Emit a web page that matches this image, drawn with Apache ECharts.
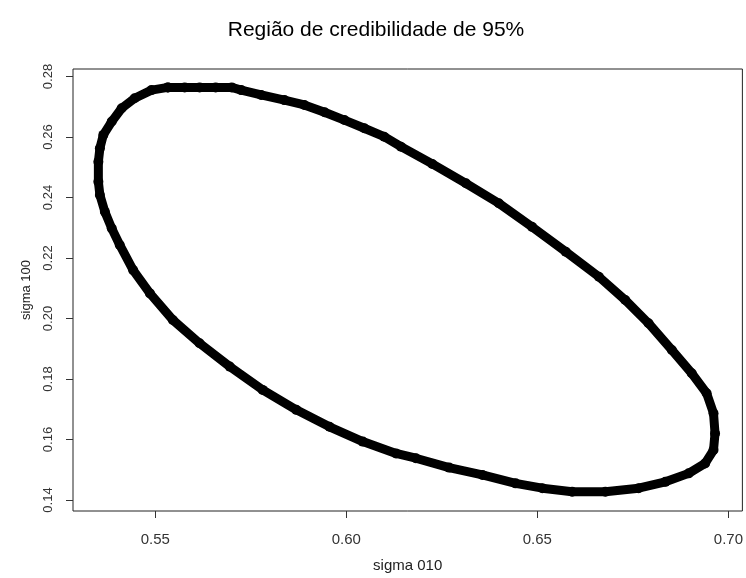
<!DOCTYPE html>
<html>
<head>
<meta charset="utf-8">
<script src="https://cdn.jsdelivr.net/npm/echarts@6/dist/echarts.min.js"></script>
<style>
  html, body { margin: 0; padding: 0; background: #fff; }
  #chart { width: 746px; height: 578px; }
</style>
</head>
<body>
<div id="chart"></div>
<script>
// Boundary of the 95% credibility region, traced around the contour
// (sigma 010 on x, sigma 100 on y).
const sigma010 = [
  0.5533, 0.5577, 0.5616, 0.5658, 0.5700, 0.5725, 0.5777, 0.5838, 0.5890, 0.5943,
  0.5995, 0.6047, 0.6099, 0.6143, 0.6225, 0.6313, 0.6399, 0.6486, 0.6574, 0.6661,
  0.6730, 0.6791, 0.6852, 0.6904, 0.6943, 0.6961, 0.6965, 0.6961, 0.6939, 0.6896,
  0.6835, 0.6765, 0.6678, 0.6591, 0.6513, 0.6443, 0.6356, 0.6269, 0.6182, 0.6130,
  0.6043, 0.5956, 0.5869, 0.5781, 0.5695, 0.5616, 0.5546, 0.5486, 0.5442, 0.5407,
  0.5386, 0.5368, 0.5355, 0.5351, 0.5351, 0.5355, 0.5364, 0.5386, 0.5412, 0.5446,
  0.5490, 0.5533
];
const sigma100 = [
  0.2764, 0.2764, 0.2764, 0.2764, 0.2764, 0.2755, 0.2739, 0.2722, 0.2706, 0.2682,
  0.2656, 0.2629, 0.2601, 0.2568, 0.2511, 0.2447, 0.2381, 0.2303, 0.2221, 0.2138,
  0.2061, 0.1984, 0.1896, 0.1819, 0.1753, 0.1687, 0.1620, 0.1565, 0.1521, 0.1488,
  0.1460, 0.1439, 0.1427, 0.1427, 0.1439, 0.1455, 0.1483, 0.1507, 0.1538, 0.1554,
  0.1593, 0.1642, 0.1698, 0.1764, 0.1841, 0.1918, 0.1995, 0.2083, 0.2160, 0.2243,
  0.2298, 0.2353, 0.2408, 0.2452, 0.2518, 0.2563, 0.2607, 0.2651, 0.2695, 0.2728,
  0.2755, 0.2764
];

// Axis ticks and ranges
const xTicks = [0.55, 0.60, 0.65, 0.70];
const yTicks = [0.14, 0.16, 0.18, 0.20, 0.22, 0.24, 0.26, 0.28];
const xRange = [0.52846, 0.70366];
const yRange = [0.13636, 0.28248];

const points = sigma010.map((x, i) => [x, sigma100[i]]);

const FONT = "'Liberation Sans', Arial, Helvetica, sans-serif";
const chart = echarts.init(document.getElementById('chart'), null, { renderer: 'canvas' });

chart.setOption({
  animation: false,
  backgroundColor: '#ffffff',
  title: {
    text: 'Região de credibilidade de 95%',
    left: 376,
    top: 20,
    padding: 0,
    textAlign: 'center',
    textStyle: { fontFamily: FONT, fontSize: 21, fontWeight: 'normal', color: '#000' }
  },
  grid: {
    left: 73, right: 2, top: 69, bottom: 67,
    show: true, borderColor: '#222', borderWidth: 1, backgroundColor: 'transparent'
  },
  xAxis: {
    type: 'value',
    min: xRange[0], max: xRange[1],
    name: 'sigma 010',
    nameLocation: 'middle',
    nameGap: 47,
    nameTextStyle: { fontFamily: FONT, fontSize: 15, color: '#222' },
    axisLine: { show: false },
    splitLine: { show: false },
    axisTick: { show: true, length: 7, customValues: xTicks, lineStyle: { color: '#333' } },
    axisLabel: {
      customValues: xTicks, margin: 21,
      formatter: v => v.toFixed(2),
      fontFamily: FONT, fontSize: 15, color: '#333'
    }
  },
  yAxis: {
    type: 'value',
    min: yRange[0], max: yRange[1],
    name: 'sigma 100',
    nameLocation: 'middle',
    nameRotate: 90,
    nameGap: 40,
    nameTextStyle: { fontFamily: FONT, fontSize: 13, color: '#222' },
    axisLine: { show: false },
    splitLine: { show: false },
    axisTick: { show: true, length: 7, customValues: yTicks, lineStyle: { color: '#333' } },
    axisLabel: {
      customValues: yTicks, margin: 18, rotate: 90,
      formatter: v => v.toFixed(2),
      fontFamily: FONT, fontSize: 13, color: '#333'
    }
  },
  series: [{
    type: 'line',
    data: points,
    symbol: 'circle',
    symbolSize: 10,
    showSymbol: true,
    itemStyle: { color: '#000' },
    lineStyle: { color: '#000', width: 9, cap: 'round', join: 'round' },
    silent: true
  }]
});
</script>
</body>
</html>
